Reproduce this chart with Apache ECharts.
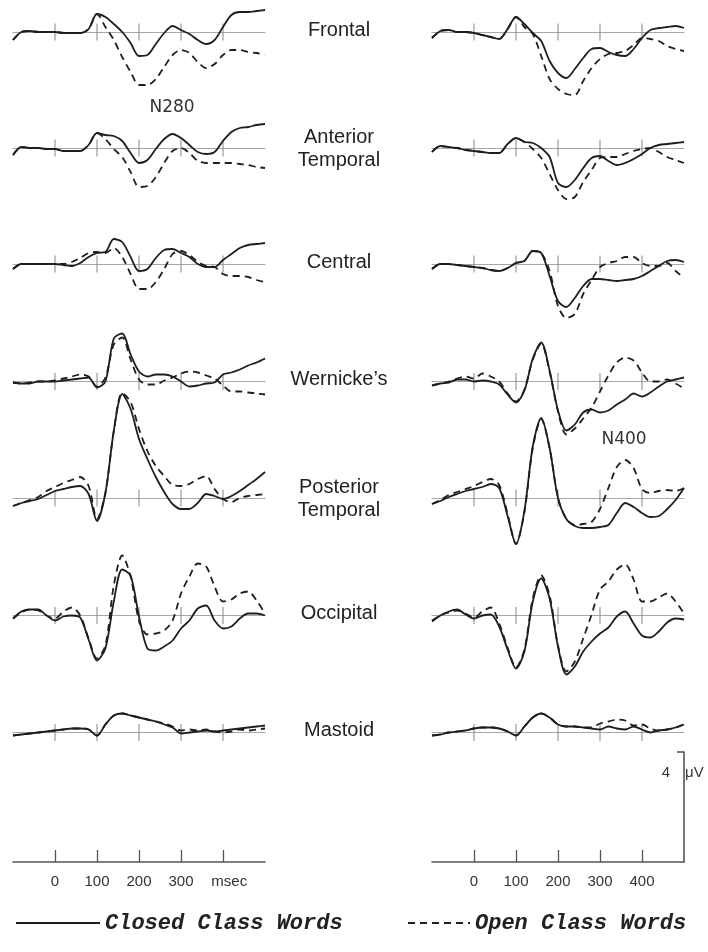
<!DOCTYPE html>
<html>
<head>
<meta charset="utf-8">
<script src="https://cdn.jsdelivr.net/npm/echarts@6/dist/echarts.min.js"></script>
<style>
  html, body { margin: 0; padding: 0; background: #fff; }
  #chart { width: 708px; height: 952px; }
</style>
</head>
<body>
<div id="chart"></div>
<script>
// sample times (ms)
var times = [-100,-80,-60,-40,-20,0,20,40,60,80,100,120,140,160,180,200,220,240,260,280,300,320,340,360,380,400,420,440,460,480,500];
var tickTimes = [0, 100, 200, 300, 400];

// amplitudes in microvolts, negative plotted up
var frontalLClosed = [0.8,0,-0.1,0,0, 0,0.1,0.1,0.1,-0.3, -1.8,-1.5,-0.8,0,1.1, 2.4,2.3,1.2,0.1,-0.6, -0.2,0.2,0.8,1.2,0.8, -0.5,-1.7,-2.0,-2.0,-2.1, -2.2];
var frontalLOpen   = [0.8,0,-0.1,0,0, 0,0.1,0.1,0.1,-0.3, -1.8,-0.5,0.8,2.5,4.0, 5.3,5.3,4.7,3.5,2.3, 1.8,2.1,3.0,3.6,3.2, 2.3,1.8,1.8,2.0,2.1, 2.3];
var frontalRClosed = [0.6,-0.1,-0.2,0,0, 0.1,0.3,0.5,0.7,-0.3, -1.5,-0.8,0.1,0.9,2.9, 4.1,4.6,3.7,2.6,1.7, 1.6,2.0,2.3,2.4,1.7, 0.6,-0.2,-0.4,-0.5,-0.6, -0.4];
var frontalROpen   = [0.6,-0.1,-0.2,0,0, 0.1,0.3,0.5,0.7,-0.3, -1.5,-0.5,0.2,2.4,4.7, 5.7,6.2,6.3,4.9,3.6, 2.7,2.2,2.1,1.9,1.3, 0.6,0.7,0.9,1.4,1.7, 1.9];

var antTempLClosed = [0.7,-0.1,0,0,0.1, 0.1,0.3,0.3,0.3,-0.3, -1.5,-1.3,-1.2,-0.7,0.5, 1.5,1.2,0.1,-0.9,-1.4, -1.0,-0.3,0.4,0.6,0.4, -0.7,-1.6,-2.0,-2.1,-2.3, -2.4];
var antTempLOpen   = [0.7,-0.1,0,0,0.1, 0.1,0.3,0.3,0.3,-0.3, -1.5,-0.9,0.1,0.9,2.4, 3.9,3.8,2.9,1.5,0.3, 0,0.5,1.3,1.5,1.5, 1.5,1.5,1.6,1.7,1.9, 2.0];
var antTempRClosed = [0.4,-0.2,-0.1,0,0.2, 0.3,0.4,0.5,0.5,-0.4, -1.0,-0.6,-0.5,0,0.9, 3.5,3.9,3.2,2.0,1.0, 0.8,1.3,1.7,1.5,1.1, 0.6,0,-0.3,-0.4,-0.5, -0.6];
var antTempROpen   = [0.4,-0.2,-0.1,0,0.2, 0.3,0.4,0.5,0.5,-0.4, -1.0,-0.6,0.1,1.0,2.6, 4.2,5.1,4.9,3.4,2.2, 1.0,0.9,0.9,0.6,0.3, 0.1,0,0.4,0.9,1.2, 1.5];

var centralLClosed = [0.5,0,0,0,0, 0,0.1,0.2,-0.1,-0.7, -1.1,-1.2,-2.5,-2.2,-0.7, 0.7,0.5,-0.6,-1.4,-1.5, -1.1,-0.7,0,0.3,0.3, -0.4,-1.0,-1.6,-1.9,-2.0, -2.1];
var centralLOpen   = [0.5,0,0,0,0, 0,0,-0.2,-0.6,-1.1, -1.2,-1.1,-1.6,-0.7,1.0, 2.5,2.5,1.8,0.5,-1.0, -1.3,-0.9,-0.2,0.2,0.3, 1.0,1.2,1.2,1.3,1.6, 1.8];
var centralRClosed = [0.5,0,0,0.1,0.2, 0.3,0.4,0.6,0.7,0.4, -0.1,-0.3,-1.3,-1.1,1.2, 3.7,4.3,3.4,2.2,1.5, 1.5,1.6,1.7,1.6,1.5, 1.2,0.7,0.2,-0.3,-0.4, -0.2];
var centralROpen   = [0.5,0,0,0.1,0.2, 0.3,0.4,0.6,0.7,0.4, -0.1,-0.3,-1.3,-1.1,0.7, 4.2,5.4,5.0,3.0,1.6, 0.3,-0.1,-0.3,-0.7,-0.7, -0.1,0.2,0.2,-0.1,0.7, 1.4];

var wernickeLClosed = [0.1,0.2,0.2,0,0, 0,-0.1,-0.2,-0.3,-0.4, 0.6,0,-4.3,-4.8,-2.7, -1.0,-0.5,-0.7,-0.7,-0.5, 0,0.5,0.4,0.2,0.1, -0.7,-0.9,-1.2,-1.6,-1.9, -2.3];
var wernickeLOpen   = [0.1,0.2,0.1,0,0, -0.1,-0.3,-0.5,-0.7,-0.5, 0.5,-0.4,-3.7,-4.4,-2.2, -0.2,0.3,0.3,-0.1,-0.4, -0.8,-1.0,-0.9,-0.6,-0.3, 0.4,1.0,1.0,1.1,1.2, 1.3];
var wernickeRClosed = [0.4,0.2,0.1,-0.2,-0.2, 0,-0.1,0,0.3,1.3, 2.1,0.9,-2.3,-3.9,-1.1, 2.9,4.9,4.3,3.1,2.8, 3.1,2.9,2.3,1.8,1.2, 1.5,1.1,0.5,0,-0.2, -0.4];
var wernickeROpen   = [0.4,0.2,0,-0.3,-0.5, -0.3,-0.8,-0.5,0,1.2, 2.0,0.8,-2.2,-3.8,-1.0, 3.0,5.3,4.7,3.7,2.6, 1.0,-0.6,-1.9,-2.4,-2.1, -0.9,0,0,-0.2,0.2, 0.7];

var postTempLClosed = [0.8,0.5,0.3,0.1,-0.3, -0.7,-0.9,-1.1,-1.2,-0.4, 2.3,-0.5,-6.7,-10.4,-8.9, -5.9,-3.9,-2.1,-0.6,0.6, 1.1,1.1,0.5,-0.4,-0.2, 0.1,-0.2,-0.7,-1.3,-1.9, -2.6];
var postTempLOpen   = [0.8,0.5,0.2,-0.1,-0.7, -1.1,-1.5,-1.8,-2.1,-1.2, 2.1,-0.5,-6.7,-10.5,-9.6, -6.9,-4.7,-3.2,-2.2,-1.3, -1.2,-1.4,-1.9,-2.2,-0.9, 0.1,0.4,0,-0.2,-0.3, -0.4];
var postTempRClosed = [0.6,0.3,-0.1,-0.4,-0.7, -0.9,-1.1,-1.4,-1.0,1.8, 4.6,1.3,-5.2,-8.0,-5.0, 0,2.1,2.8,3.0,3.0, 2.9,2.7,1.5,0.5,0.9, 1.5,1.9,1.8,1.1,0.2, -1.0];
var postTempROpen   = [0.6,0.2,-0.3,-0.6,-0.9, -1.2,-1.6,-1.9,-1.3,1.6, 4.6,1.4,-5.0,-7.9,-5.0, 0,2.1,2.7,2.6,2.4, 1.1,-1.0,-3.1,-3.8,-3.0, -0.9,-0.5,-0.7,-0.8,-0.7, -1.0];

var occipitalLClosed = [0.3,-0.4,-0.6,-0.6,0, 0.5,0.1,0,0.2,2.4, 4.5,3.3,-1.4,-4.6,-4.0, 0.1,3.3,3.5,3.1,2.5, 1.3,0.5,-0.7,-1.0,0.5, 1.3,1.1,0.3,-0.2,-0.2, 0];
var occipitalLOpen   = [0.3,-0.3,-0.6,-0.5,0, 0.3,-0.4,-0.8,0,2.3, 4.3,3.0,-3.0,-6.0,-3.9, 0.5,1.9,1.8,1.5,0.5, -2.2,-3.9,-5.2,-4.9,-2.9, -1.4,-1.6,-2.2,-2.4,-1.5, -0.2];
var occipitalRClosed = [0.6,0,-0.4,-0.6,-0.1, 0.3,0,-0.1,1.1,3.4, 5.3,3.6,-1.4,-3.7,-1.7, 3.1,5.9,5.1,3.6,2.6, 1.8,1.2,0.1,-0.4,0.8, 2.0,2.2,1.6,0.7,0.3, 0.4];
var occipitalROpen   = [0.5,0,-0.3,-0.5,-0.2, 0.2,-0.4,-0.8,0.8,3.2, 5.2,3.4,-1.7,-4.0,-2.0, 3.0,5.6,4.6,2.3,-0.1, -2.6,-3.4,-4.6,-5.1,-3.6, -1.4,-1.4,-1.8,-2.2,-1.4, -0.2];

var mastoidLClosed = [0.3,0.2,0.1,0,-0.1, -0.2,-0.3,-0.4,-0.4,-0.3, 0.3,-0.8,-1.7,-1.9,-1.7, -1.5,-1.3,-1.1,-0.8,-0.5, 0.1,0,-0.1,-0.2,-0.1, -0.2,-0.3,-0.4,-0.5,-0.6, -0.7];
var mastoidLOpen   = [0.3,0.2,0.1,0,-0.1, -0.2,-0.3,-0.4,-0.4,-0.3, 0.3,-0.8,-1.7,-1.9,-1.7, -1.5,-1.3,-1.1,-0.9,-0.6, -0.2,-0.3,-0.2,-0.3,-0.1, 0,-0.1,-0.3,-0.2,-0.3, -0.4];
var mastoidRClosed = [0.3,0.2,0,-0.1,-0.2, -0.4,-0.5,-0.5,-0.4,-0.1, 0.3,-0.6,-1.5,-1.9,-1.5, -0.8,-0.6,-0.6,-0.5,-0.4, -0.3,-0.6,-0.4,-0.3,-0.6, -0.3,0,-0.2,-0.3,-0.5, -0.8];
var mastoidROpen   = [0.3,0.2,0,-0.1,-0.2, -0.4,-0.5,-0.5,-0.4,-0.1, 0.3,-0.6,-1.5,-1.9,-1.5, -0.8,-0.6,-0.6,-0.5,-0.5, -0.9,-1.1,-1.3,-1.2,-0.7, -0.8,-0.4,-0.2,-0.3,-0.5, -0.8];

var siteNames = ['Frontal', 'Anterior\nTemporal', 'Central', 'Wernicke\u2019s', 'Posterior\nTemporal', 'Occipital', 'Mastoid'];
var leftSites = [
  [frontalLClosed, frontalLOpen], [antTempLClosed, antTempLOpen], [centralLClosed, centralLOpen],
  [wernickeLClosed, wernickeLOpen], [postTempLClosed, postTempLOpen], [occipitalLClosed, occipitalLOpen],
  [mastoidLClosed, mastoidLOpen]
];
var rightSites = [
  [frontalRClosed, frontalROpen], [antTempRClosed, antTempROpen], [centralRClosed, centralROpen],
  [wernickeRClosed, wernickeROpen], [postTempRClosed, postTempROpen], [occipitalRClosed, occipitalROpen],
  [mastoidRClosed, mastoidROpen]
];

// layout
var rowBaseline = [32, 148, 264, 381.5, 498, 615.5, 732.5];
var colLeft = [13, 432];
var colWidth = 252;
var pxPerUv = 10;
var uvMin = -12, uvMax = 8;
var ink = '#1e1e1e';

var grids = [], xAxes = [], yAxes = [], series = [];

function addPanel(left, base, pair) {
  var g = grids.length;
  grids.push({
    left: left, width: colWidth, top: base + uvMin * pxPerUv, height: (uvMax - uvMin) * pxPerUv,
    outerBoundsMode: 'none', containLabel: false
  });
  yAxes.push({ gridIndex: g, type: 'value', inverse: true, min: uvMin, max: uvMax, show: false });
  xAxes.push({
    gridIndex: g, type: 'value', position: 'bottom', min: -100, max: 500,
    axisLine: { show: true, onZero: true, lineStyle: { color: '#a8a8a8', width: 1.2 } },
    axisTick: { show: false }, axisLabel: { show: false }, splitLine: { show: false }
  });
  var xi = xAxes.length - 1;
  var yi = yAxes.length - 1;
  // tick marks crossing the baseline
  series.push({
    type: 'scatter', xAxisIndex: xi, yAxisIndex: yi, silent: true,
    data: tickTimes.map(function (t) { return [t, 0]; }),
    symbol: 'rect', symbolSize: [1.3, 17], itemStyle: { color: '#8a8a8a' }, z: 2
  });
  [['Closed Class Words', 'solid', pair[0]], ['Open Class Words', [7, 5], pair[1]]].forEach(function (s) {
    series.push({
      name: s[0], type: 'line', xAxisIndex: xi, yAxisIndex: yi,
      data: times.map(function (t, i) { return [t, s[2][i]]; }),
      smooth: 0.3, symbol: 'none', showSymbol: false, silent: true, clip: false,
      itemStyle: { color: ink },
      lineStyle: { color: ink, width: 1.8, type: s[1] }, z: 3
    });
  });
}

for (var r = 0; r < siteNames.length; r++) {
  addPanel(colLeft[0], rowBaseline[r], leftSites[r]);
  addPanel(colLeft[1], rowBaseline[r], rightSites[r]);
}

// time scales at the bottom, with the voltage bar on the right one
var scaleTop = 752, scaleBase = 862;
[0, 1].forEach(function (c) {
  var g = grids.length;
  grids.push({ left: colLeft[c], width: colWidth, top: scaleTop, height: scaleBase - scaleTop, outerBoundsMode: 'none', containLabel: false });
  xAxes.push({
    gridIndex: g, type: 'value', position: 'bottom', min: -100, max: 500,
    axisLine: { show: true, onZero: false, lineStyle: { color: '#555', width: 1.6 } },
    axisTick: { show: true, inside: true, customValues: tickTimes, length: 12, lineStyle: { color: '#555', width: 1.3 } },
    axisLabel: {
      show: true, customValues: tickTimes, margin: 12, color: '#333', fontSize: 15, fontFamily: 'Liberation Sans',
      formatter: function (v) { return (c === 0 && v === 400) ? '   msec' : String(v); }
    },
    splitLine: { show: false }
  });
  yAxes.push({
    gridIndex: g, type: 'value', min: 0, max: 11, position: 'right',
    show: c === 1,
    axisLine: { show: true, onZero: false, lineStyle: { color: '#555', width: 1.6 } },
    axisTick: { show: true, inside: true, customValues: [11], length: 7, lineStyle: { color: '#555', width: 1.6 } },
    axisLabel: { show: false }, splitLine: { show: false }
  });
});

var labelFont = 'Liberation Sans';
var graphics = [];
siteNames.forEach(function (name, r) {
  graphics.push({
    type: 'text', x: 339, y: rowBaseline[r] + (name.indexOf('\n') >= 0 ? 1 : -2),
    style: { text: name, fill: '#222', font: '20px ' + labelFont, align: 'center', verticalAlign: 'middle', lineHeight: 23 }
  });
});
graphics.push({ type: 'text', x: 172, y: 108, style: { text: 'N280', fill: '#333', font: '17px DejaVu Sans', align: 'center', verticalAlign: 'middle' } });
graphics.push({ type: 'text', x: 624, y: 440, style: { text: 'N400', fill: '#333', font: '17px DejaVu Sans', align: 'center', verticalAlign: 'middle' } });
graphics.push({ type: 'text', x: 666, y: 773, style: { text: '4', fill: '#333', font: '15px ' + labelFont, align: 'center', verticalAlign: 'middle' } });
graphics.push({ type: 'text', x: 685, y: 773, style: { text: '\u03bcV', fill: '#333', font: '15px ' + labelFont, align: 'left', verticalAlign: 'middle' } });

var legendText = { fontFamily: 'Liberation Mono', fontStyle: 'italic', fontWeight: 'bold', fontSize: 22, color: '#222' };

var option = {
  backgroundColor: '#fff',
  animation: false,
  grid: grids,
  xAxis: xAxes,
  yAxis: yAxes,
  series: series,
  legend: [
    { data: ['Closed Class Words'], left: 10, top: 907, itemWidth: 84, itemHeight: 14, textStyle: legendText,
      itemStyle: { opacity: 0 }, selectedMode: false },
    { data: ['Open Class Words'], left: 402, top: 907, itemWidth: 62, itemHeight: 14, textStyle: legendText,
      itemStyle: { opacity: 0 }, selectedMode: false }
  ],
  graphic: graphics
};

var chart = echarts.init(document.getElementById('chart'));
chart.setOption(option);
</script>
</body>
</html>
